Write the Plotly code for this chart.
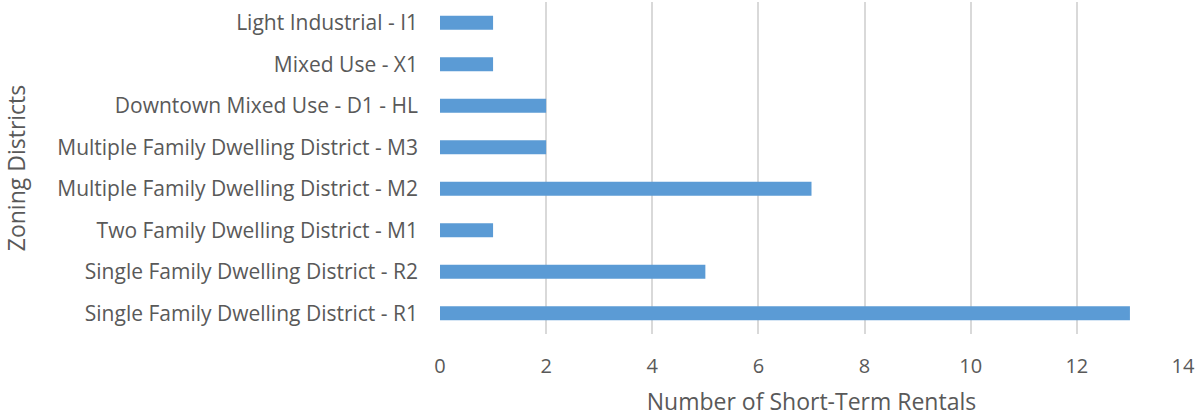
import plotly.graph_objects as go

categories = [
    "Single Family Dwelling District - R1",
    "Single Family Dwelling District - R2",
    "Two Family Dwelling District - M1",
    "Multiple Family Dwelling District - M2",
    "Multiple Family Dwelling District - M3",
    "Downtown Mixed Use - D1 - HL",
    "Mixed Use - X1",
    "Light Industrial - I1",
]
values = [13, 5, 1, 7, 2, 2, 1, 1]
x_ticks = [0, 2, 4, 6, 8, 10, 12, 14]

FONT = "Open Sans"
GRAY = "#595959"

fig = go.Figure(go.Bar(
    y=categories, x=values, orientation="h",
    marker=dict(color="#5B9BD5", line=dict(width=0)),
))

fig.update_layout(
    width=1203, height=417,
    margin=dict(l=440, r=20, t=2, b=83),
    paper_bgcolor="white", plot_bgcolor="white",
    bargap=0.66,
    showlegend=False,
    font=dict(family=FONT, size=21, color=GRAY),
    xaxis=dict(
        range=[0, 14], tickvals=x_ticks, showgrid=True, gridcolor="#D9D9D9", gridwidth=1.5,
        zeroline=False, showline=False, ticks="", ticklabelstandoff=18,
        automargin=False,
        tickfont=dict(family=FONT, size=20, color=GRAY),
        title=dict(text="Number of Short-Term Rentals", standoff=26,
                   font=dict(family=FONT, size=23, color=GRAY)),
    ),
    yaxis=dict(
        showgrid=False, zeroline=False, showline=False, ticks="",
        ticklabelstandoff=21, automargin=False,
        tickfont=dict(family=FONT, size=21, color=GRAY),
        title=dict(text="Zoning Districts", standoff=40,
                   font=dict(family=FONT, size=23, color=GRAY)),
    ),
)

fig.write_html("out.html", config={"displayModeBar": False},
               post_script="document.body.style.margin='0';")
